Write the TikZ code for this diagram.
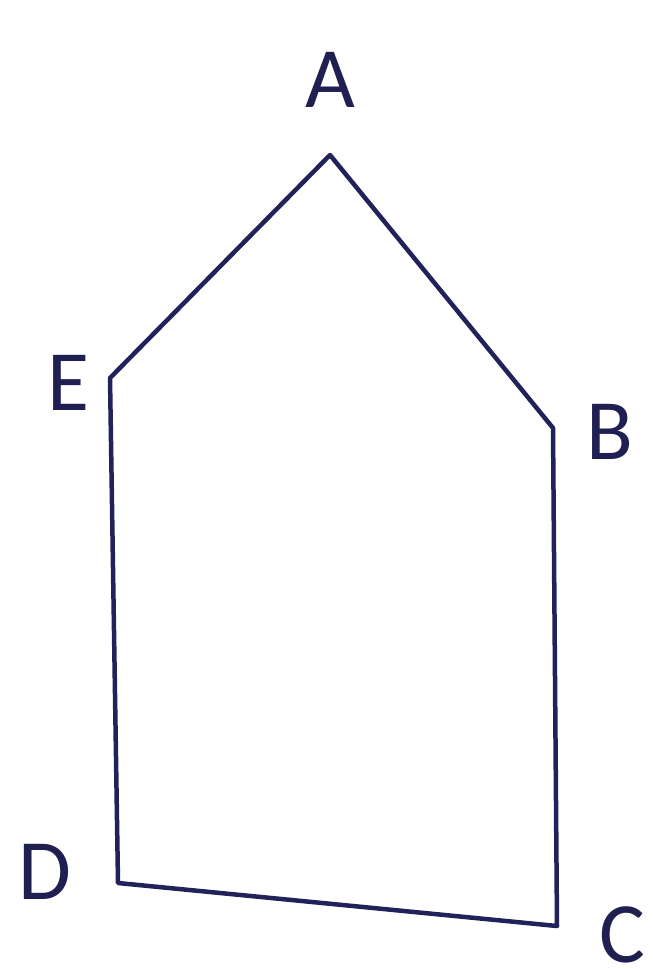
\documentclass[tikz,border=0pt]{standalone}
\usepackage{fontspec}
\setmainfont{Carlito}
\definecolor{ink}{HTML}{22225A}
\begin{document}
\begin{tikzpicture}[x=1pt,y=-1pt,
  lbl/.style={text=ink!90!black,font=\fontsize{86}{86}\selectfont,inner sep=0pt},
  edge/.style={draw=ink,line width=4.5pt,line join=round,line cap=round}]
\useasboundingbox (0,0) rectangle (653,969);
\coordinate (A) at (330,155);
\coordinate (B) at (553,428);
\coordinate (C) at (557,926);
\coordinate (D) at (118,883);
\coordinate (E) at (110,378);
\draw[edge] (A) -- (B) -- (C) -- (D) -- (E) -- cycle;
\node[lbl] (la) at (330,80) {A};
\node[lbl] (lb) at (610,432) {B};
\node[lbl] (lc) at (622,935) {C};
\node[lbl] (ld) at (45,872) {D};
\node[lbl] (le) at (68,383) {E};
\end{tikzpicture}
\end{document}
